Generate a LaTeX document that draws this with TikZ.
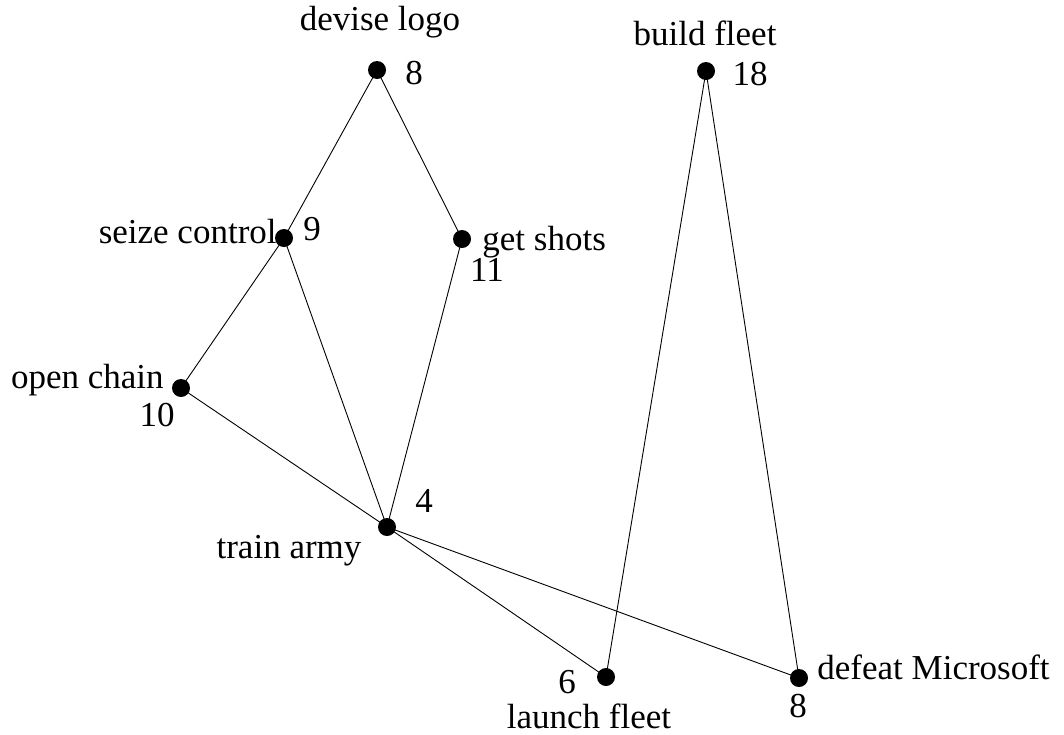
\documentclass[tikz,border=0pt]{standalone}
\usepackage{fontspec}
\setmainfont{Liberation Serif}
\begin{document}
\begin{tikzpicture}[x=0.5pt,y=-0.5pt,
  dot/.style={circle,fill=black,inner sep=0pt,minimum size=9pt},
  lbl/.style={inner sep=0pt,font=\fontsize{17.5}{20}\selectfont},
  edge/.style={draw=black,line width=0.45pt}]
\useasboundingbox (0,0) rectangle (1064,734);
% dots
\node[dot] (logo) at (377,70) {};
\node[dot] (fleet) at (706,71) {};
\node[dot] (seize) at (284,238) {};
\node[dot] (shots) at (462,239) {};
\node[dot] (chain) at (181,388) {};
\node[dot] (army) at (387,527) {};
\node[dot] (launch) at (606,677) {};
\node[dot] (defeat) at (799,678) {};
% edges
\draw[edge] (logo.center) -- (seize.center);
\draw[edge] (logo.center) -- (shots.center);
\draw[edge] (seize.center) -- (chain.center);
\draw[edge] (seize.center) -- (army.center);
\draw[edge] (shots.center) -- (army.center);
\draw[edge] (chain.center) -- (army.center);
\draw[edge] (army.center) -- (launch.center);
\draw[edge] (army.center) -- (defeat.center);
\draw[edge] (fleet.center) -- (launch.center);
\draw[edge] (fleet.center) -- (defeat.center);
% labels
\node[lbl] (tlogo) at (380,22) {devise logo};
\node[lbl] (nlogo) at (414,73) {8};
\node[lbl] (tfleet) at (705,33) {build fleet};
\node[lbl] (nfleet) at (750,74) {18};
\node[lbl,anchor=east] (tseize) at (277,232) {seize control};
\node[lbl] (nseize) at (312,229) {9};
\node[lbl,anchor=west] (tshots) at (482,242) {get shots};
\node[lbl] (nshots) at (487,270) {11};
\node[lbl,anchor=east] (tchain) at (164,380) {open chain};
\node[lbl] (nchain) at (157,415) {10};
\node[lbl] (tarmy) at (289,551) {train army};
\node[lbl] (narmy) at (424,501) {4};
\node[lbl] (tlaunch) at (589,716) {launch fleet};
\node[lbl] (nlaunch) at (567,682) {6};
\node[lbl,anchor=west] (tdefeat) at (817,667) {defeat Microsoft};
\node[lbl] (ndefeat) at (798,706) {8};
\end{tikzpicture}
\end{document}
